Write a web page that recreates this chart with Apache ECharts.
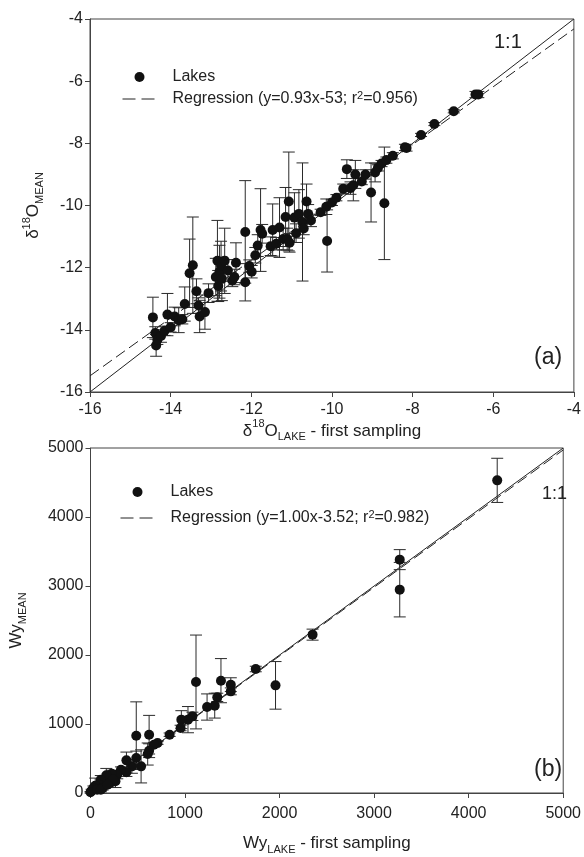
<!DOCTYPE html>
<html>
<head>
<meta charset="utf-8">
<script src="https://cdn.jsdelivr.net/npm/echarts@6/dist/echarts.min.js"></script>
<style>
html,body{margin:0;padding:0;background:#fff;}
#chart{width:584px;height:857px;}
</style>
</head>
<body>
<div id="chart"></div>
<script>
// Panel (a): delta18O
const xA = [-14.44,-14.38,-14.36,-14.33,-14.24,-14.15,-14.08,-14.00,-13.90,-13.80,-13.71,-13.65,-13.53,-13.45,-13.36,-13.31,-13.28,-13.15,-13.06,-12.88,-12.84,-12.82,-12.79,-12.75,-12.73,-12.66,-12.58,-12.47,-12.42,-12.38,-12.15,-12.15,-12.05,-11.99,-11.90,-11.84,-11.77,-11.73,-11.52,-11.47,-11.38,-11.30,-11.21,-11.15,-11.11,-11.07,-11.05,-10.93,-10.89,-10.82,-10.73,-10.70,-10.63,-10.59,-10.52,-10.28,-10.14,-10.12,-10.00,-9.89,-9.72,-9.63,-9.54,-9.47,-9.42,-9.26,-9.17,-9.03,-8.93,-8.86,-8.77,-8.70,-8.65,-8.49,-8.19,-8.15,-7.79,-7.46,-6.98,-6.44,-6.37];
const yA = [-13.60,-14.10,-14.50,-14.32,-14.20,-14.03,-13.51,-13.92,-13.57,-13.69,-13.66,-13.17,-12.18,-11.92,-12.76,-13.22,-13.57,-13.43,-12.82,-12.30,-11.78,-12.59,-12.13,-11.95,-12.36,-11.78,-12.09,-12.41,-12.30,-11.84,-10.85,-12.47,-11.95,-12.13,-11.60,-11.29,-10.79,-10.91,-11.31,-10.79,-11.23,-10.71,-11.08,-10.37,-11.08,-9.87,-11.20,-10.39,-10.89,-10.27,-10.53,-10.74,-9.87,-10.27,-10.48,-10.22,-10.04,-11.14,-9.90,-9.75,-9.46,-8.83,-9.44,-9.35,-9.00,-9.23,-9.00,-9.58,-8.94,-8.79,-8.65,-9.93,-8.54,-8.40,-8.13,-8.15,-7.73,-7.38,-6.97,-6.43,-6.43];
const errA = [0.65,0.20,0.35,0.15,0.20,0.15,0.68,0.15,0.30,0.40,0.15,0.55,1.10,1.55,0.40,0.25,0.52,0.55,0.30,0.60,1.30,0.50,0.85,0.80,0.70,1.05,0.35,0.20,0.25,0.64,1.65,0.60,0.20,0.20,0.25,0.35,1.33,0.30,0.30,0.84,0.20,0.96,0.35,0.95,0.35,1.59,0.30,0.80,0.30,0.78,1.90,0.20,0.56,0.30,0.20,0.10,0.25,1.00,0.10,0.10,0.15,0.30,0.20,0.50,0.45,0.10,0.15,0.95,0.30,0.10,0.10,1.81,0.10,0.10,0.10,0.10,0.05,0.05,0.05,0.10,0.10];
const rangeA = [-16, -4];
const ticksA = [-16,-14,-12,-10,-8,-6,-4];
const regA = {slope: 0.93, intercept: -0.6};

// Panel (b): Wy
const xB = [4302,3271,3271,2349,1957,1748,1484,1484,1380,1341,1314,1233,1116,1078,1031,961,953,837,709,671,620,620,605,484,484,535,438,380,380,322,283,264,225,167,147,109,89,50,31,12,0,70,128,205,109,240,180];
const yB = [4531,3382,2947,2295,1560,1797,1570,1473,1628,1386,1266,1246,1609,1111,1063,1063,942,845,725,700,845,613,565,831,507,386,386,473,300,338,266,169,280,256,145,193,121,106,72,34,10,48,72,145,48,200,120];
const errB = [320,145,395,80,345,40,100,50,320,60,180,190,680,60,190,130,40,25,20,30,280,100,160,490,100,240,100,120,60,40,60,90,50,100,50,60,40,110,30,20,10,30,30,40,30,50,30];
const rangeB = [0, 5000];
const ticksB = [0,1000,2000,3000,4000,5000];
const regB = {slope: 0.995, intercept: -3.52};

const FONT = 'Liberation Sans, Arial, sans-serif';
const TXT = '#222';
const INK = '#111';

function pts(xs, ys){ return xs.map((x,i)=>[x, ys[i]]); }
function bars(xs, ys, es){ return xs.map((x,i)=>[x, ys[i]-es[i], ys[i]+es[i]]); }
function regLine(r, range){ return range.map(x=>[x, r.slope*x + r.intercept]); }

function errRender(params, api){
  const x = api.value(0), lo = api.value(1), hi = api.value(2);
  const a = api.coord([x, lo]), b = api.coord([x, hi]);
  const w = 6;
  const st = {stroke:'#2a2a2a', lineWidth:1};
  return {type:'group', children:[
    {type:'line', shape:{x1:a[0], y1:a[1], x2:b[0], y2:b[1]}, style:st},
    {type:'line', shape:{x1:a[0]-w, y1:a[1], x2:a[0]+w, y2:a[1]}, style:st},
    {type:'line', shape:{x1:b[0]-w, y1:b[1], x2:b[0]+w, y2:b[1]}, style:st}
  ]};
}

const richBase = {
  n:{fontSize:17, fontFamily:FONT, color:TXT, lineHeight:24, verticalAlign:'middle'},
  sup:{fontSize:11, fontFamily:FONT, color:TXT, lineHeight:24, verticalAlign:'top'},
  sub:{fontSize:11, fontFamily:FONT, color:TXT, lineHeight:24, verticalAlign:'bottom'},
  g:{width:11, fontSize:16, lineHeight:18},
  t:{fontSize:16, fontFamily:FONT, color:TXT, lineHeight:18, verticalAlign:'middle'},
  s2:{fontSize:11, fontFamily:FONT, color:TXT, lineHeight:18, verticalAlign:'top'}
};

function axisCommon(margin){
  return {
    axisLine:{show:true, onZero:false, lineStyle:{color:'#444', width:1}},
    axisTick:{show:true, inside:false, length:5, lineStyle:{color:'#444'}},
    splitLine:{show:false},
    axisLabel:{color:TXT, fontSize:16, fontFamily:FONT, margin:margin, formatter: v => String(v)}
  };
}

function legendCfg(left, top, gap, regName, regText){
  return {left:left, top:top, orient:'vertical', padding:0, itemWidth:34, itemHeight:10, itemGap:gap,
    textStyle:{color:TXT, fontSize:16, fontFamily:FONT, rich:richBase},
    selectedMode:false,
    data:[{name:'Lakes', icon:'circle', itemStyle:{color:INK}},
          {name:regName, itemStyle:{opacity:0}, lineStyle:{color:'#222', width:1, type:[13,6]}}],
    formatter: n => n==='Lakes' ? '{g|}{t|Lakes}' : regText};
}

const option = {
  backgroundColor:'#fff',
  animation:false,
  grid:[
    {left:90, top:19, width:484, height:373, show:true, borderColor:'#444', borderWidth:1},
    {left:88, top:448, width:483, height:345, show:true, borderColor:'#444', borderWidth:1}
  ],
  xAxis:[
    Object.assign(axisCommon(10), {gridIndex:0, type:'value', min:rangeA[0], max:rangeA[1], interval:2,
      name:'{n|δ}{sup|18}{n|O}{sub|LAKE}{n| - first sampling}', nameLocation:'middle', nameGap:26,
      nameTextStyle:{rich:richBase}}),
    Object.assign(axisCommon(13), {gridIndex:1, type:'value', min:rangeB[0], max:rangeB[1], interval:1000,
      name:'{n|Wy}{sub|LAKE}{n| - first sampling}', nameLocation:'middle', nameGap:38,
      nameTextStyle:{rich:richBase}})
  ],
  yAxis:[
    Object.assign(axisCommon(7), {gridIndex:0, type:'value', min:rangeA[0], max:rangeA[1], interval:2,
      name:'{n|δ}{sup|18}{n|O}{sub|MEAN}', nameLocation:'middle', nameGap:45, nameRotate:90,
      nameTextStyle:{rich:richBase}}),
    Object.assign(axisCommon(7), {gridIndex:1, type:'value', min:rangeB[0], max:rangeB[1], interval:1000,
      name:'{n|Wy}{sub|MEAN}', nameLocation:'middle', nameGap:62, nameRotate:90,
      nameTextStyle:{rich:richBase}})
  ],
  legend:[
    legendCfg(122, 69, 5, 'Regression A', '{g|}{t|Regression (y=0.93x-53; r}{s2|2}{t|=0.956)}'),
    legendCfg(120, 484, 9, 'Regression B', '{g|}{t|Regression (y=1.00x-3.52; r}{s2|2}{t|=0.982)}')
  ],
  graphic:[
    {type:'text', left:494, top:32, style:{text:'1:1', fontSize:20, fontFamily:FONT, fill:TXT}},
    {type:'text', left:534, top:346, style:{text:'(a)', fontSize:23, fontFamily:FONT, fill:TXT}},
    {type:'text', left:542, top:485, style:{text:'1:1', fontSize:18, fontFamily:FONT, fill:TXT}},
    {type:'text', left:534, top:758, style:{text:'(b)', fontSize:23, fontFamily:FONT, fill:TXT}}
  ],
  series:[
    {type:'line', name:'1:1 A', xAxisIndex:0, yAxisIndex:0, data:rangeA.map(v=>[v,v]), symbol:'none',
      lineStyle:{color:'#222', width:1}, itemStyle:{color:'#222'}, z:2, silent:true},
    {type:'line', name:'Regression A', xAxisIndex:0, yAxisIndex:0, data:regLine(regA, rangeA), symbol:'none',
      lineStyle:{color:'#222', width:1, type:[11,5]}, itemStyle:{color:'#222'}, z:2, silent:true},
    {type:'custom', name:'errA', xAxisIndex:0, yAxisIndex:0, renderItem:errRender,
      data:bars(xA, yA, errA), encode:{x:0, y:[1,2]}, z:3, silent:true},
    {type:'scatter', name:'Lakes', xAxisIndex:0, yAxisIndex:0, data:pts(xA, yA), symbol:'circle', symbolSize:10,
      itemStyle:{color:INK, opacity:1}, z:4},
    {type:'line', name:'1:1 B', xAxisIndex:1, yAxisIndex:1, data:rangeB.map(v=>[v,v]), symbol:'none',
      lineStyle:{color:'#222', width:1}, itemStyle:{color:'#222'}, z:2, silent:true},
    {type:'line', name:'Regression B', xAxisIndex:1, yAxisIndex:1, data:regLine(regB, rangeB), symbol:'none',
      lineStyle:{color:'#222', width:1, type:[11,5]}, itemStyle:{color:'#222'}, z:2, silent:true},
    {type:'custom', name:'errB', xAxisIndex:1, yAxisIndex:1, renderItem:errRender,
      data:bars(xB, yB, errB), encode:{x:0, y:[1,2]}, z:3, silent:true},
    {type:'scatter', name:'Lakes', xAxisIndex:1, yAxisIndex:1, data:pts(xB, yB), symbol:'circle', symbolSize:10,
      itemStyle:{color:INK, opacity:1}, z:4}
  ]
};

const chart = echarts.init(document.getElementById('chart'), null, {renderer:'canvas'});
chart.setOption(option);
</script>
</body>
</html>
